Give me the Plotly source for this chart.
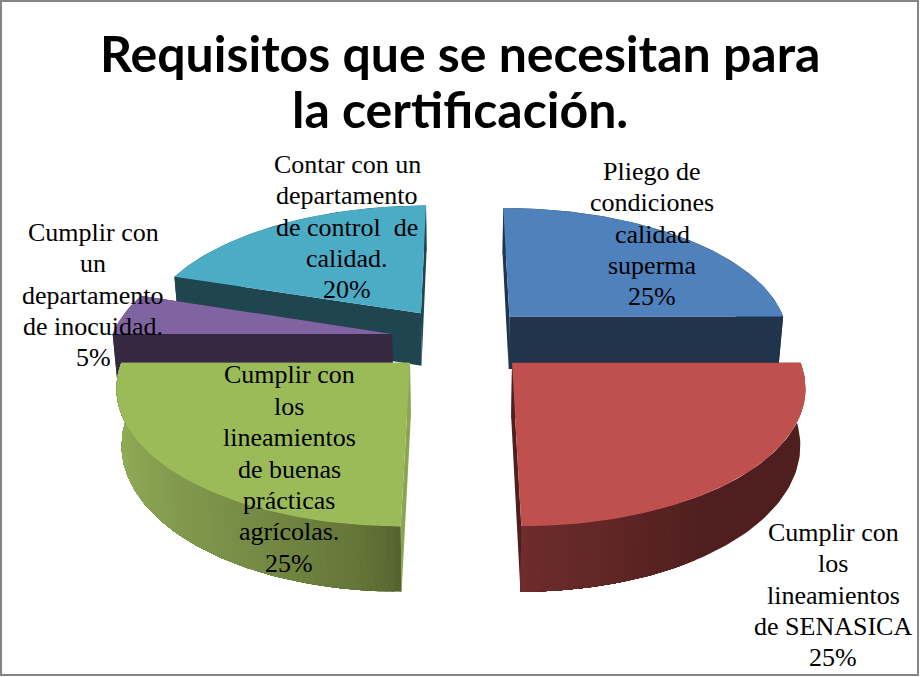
import numpy as np
import plotly.graph_objects as go

title_lines = ["Requisitos que se necesitan para", "la certificación."]
title_y = [53, 109]
categories = [
    "Pliego de<br>condiciones<br>calidad<br>superma",
    "Cumplir con<br>los<br>lineamientos<br>de SENASICA",
    "Cumplir con<br>los<br>lineamientos<br>de buenas<br>prácticas<br>agrícolas.",
    "Cumplir con<br>un<br>departamento<br>de inocuidad.",
    "Contar con un<br>departamento<br>de control  de<br>calidad.",
]
values = [25, 25, 25, 5, 20]
top_colors = ["#4F81BD", "#C0504D", "#9BBB59", "#8064A2", "#4BACC6"]
cut_colors = ["#20344B", "#4F1F1F", "#8AA650", "#372842", "#1F4550"]
rim_from = ["#20344B", "#4F1F1F", "#55632F", "#372842", "#1F4550"]
rim_to = ["#20344B", "#6E2C2C", "#8FAA56", "#372842", "#1F4550"]
label_x = [652, 833, 289, 93, 347]
label_y = [234, 595, 469, 295, 227]
draw_order = [4, 0, 3, 2, 1]

# perspective pie projection
CX, Y0, F, G, PERSP, DEPTH, SHRINK, EXPLODE = 461, 339, 281, 131, 0.15, 54, 0.015, 0.25
LINE_STEP = 31.4


def proj(px, py, z=0.0):
    w = 1 + PERSP * py
    return CX + F * px * (1 - SHRINK * z) / w, Y0 - G * py / w + z * DEPTH / w


def hex_rgb(c):
    return np.array([int(c[i:i + 2], 16) for i in (1, 3, 5)], float)


def mix(a, b, t):
    r = hex_rgb(a) * (1 - t) + hex_rgb(b) * t
    return "rgb(%d,%d,%d)" % tuple(r)


def poly(fig, xs, ys, color):
    fig.add_trace(go.Scatter(
        x=list(xs), y=list(ys), mode="lines", fill="toself", fillcolor=color,
        line=dict(color=color, width=0), hoverinfo="skip", showlegend=False))


fig = go.Figure()
edges = np.cumsum([0] + values) / sum(values) * 2 * np.pi

for i in draw_order:
    a0, a1 = edges[i], edges[i + 1]
    mid = (a0 + a1) / 2
    ax, ay = EXPLODE * np.sin(mid), EXPLODE * np.cos(mid)
    th = np.linspace(a0, a1, max(int((a1 - a0) / 0.02), 8))
    rx, ry = ax + np.sin(th), ay + np.cos(th)

    # straight cut faces
    for a in (a0, a1):
        ex, ey = ax + np.sin(a), ay + np.cos(a)
        p = [proj(ax, ay), proj(ex, ey), proj(ex, ey, 1), proj(ax, ay, 1)]
        poly(fig, [q[0] for q in p] + [p[0][0]], [q[1] for q in p] + [p[0][1]], cut_colors[i])

    # outer rim: each band paints from its start to the far end of the arc,
    # so later bands overlap earlier ones and no seams appear
    last = None
    for k in range(len(th) - 1):
        t = k / max(len(th) - 2, 1)
        if i == 1:
            c = mix(rim_from[i], rim_to[i], max(0, (t - 0.62) / 0.38))
        elif i == 2:
            c = mix(rim_from[i], rim_to[i], min(1, t / 0.75) ** 0.6)
        else:
            c = rim_from[i]
        if c == last:
            continue
        last = c
        tx, ty = proj(rx[k:], ry[k:])
        bx, by = proj(rx[k:], ry[k:], 1)
        poly(fig, list(tx) + list(bx[::-1]) + [tx[0]], list(ty) + list(by[::-1]) + [ty[0]], c)

    # top face
    tx, ty = proj(rx, ry)
    ox, oy = proj(ax, ay)
    poly(fig, [ox] + list(tx) + [ox], [oy] + list(ty) + [oy], top_colors[i])

for name, pct, lx, ly in zip(categories, values, label_x, label_y):
    rows = name.split("<br>") + [f"{pct}%"]
    for j, row in enumerate(rows):
        fig.add_annotation(x=lx, y=ly + (j - (len(rows) - 1) / 2) * LINE_STEP, xref="x", yref="y",
                           text=row, showarrow=False, xanchor="center", yanchor="middle",
                           align="center",
                           font=dict(family="Liberation Serif", size=26, color="#000000"))

for line, ty_ in zip(title_lines, title_y):
    fig.add_annotation(x=460, y=ty_, xref="x", yref="y", text=f"<b>{line}</b>",
                       showarrow=False, xanchor="center", yanchor="middle", align="center",
                       font=dict(family="Lato", size=50, color="#000000"))

fig.add_shape(type="rect", xref="x", yref="y", x0=1, y0=1, x1=918, y1=675,
              line=dict(color="#868686", width=2), fillcolor="rgba(0,0,0,0)", layer="above")

fig.update_layout(
    width=920, height=677, margin=dict(l=0, r=0, t=0, b=0),
    paper_bgcolor="#FFFFFF", plot_bgcolor="#FFFFFF", showlegend=False,
    xaxis=dict(range=[0, 920], visible=False, fixedrange=True),
    yaxis=dict(range=[677, 0], visible=False, fixedrange=True),
)
fig.write_html("out.html", config={"displayModeBar": False},
               post_script="document.body.style.margin='0';document.body.style.overflow='hidden';")
